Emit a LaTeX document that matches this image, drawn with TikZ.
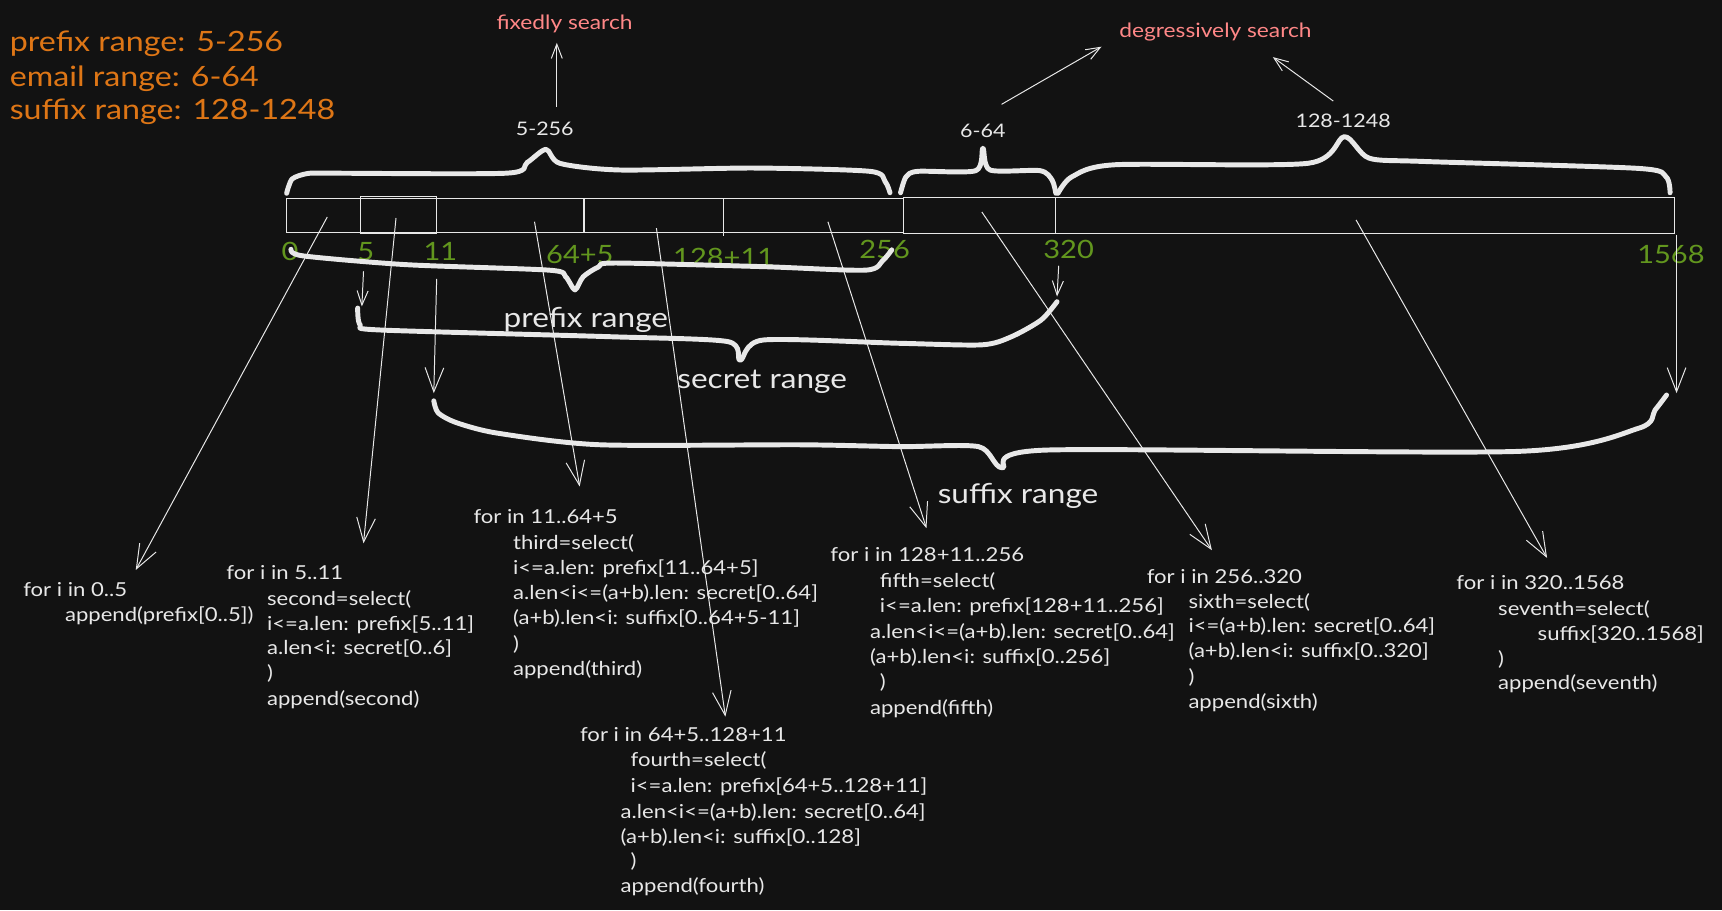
\documentclass[tikz,border=0pt]{standalone}
\usepackage{fontspec}
\usetikzlibrary{arrows.meta}
\newfontfamily\hand[FakeStretch=1.15]{Lato}
\definecolor{bg}{HTML}{121212}
\definecolor{ink}{RGB}{232,232,232}
\definecolor{orng}{RGB}{222,118,22}
\definecolor{pinkc}{RGB}{255,135,135}
\definecolor{grn}{RGB}{98,150,30}
\tikzset{
  codeline/.style={anchor=base west, inner sep=0pt, text=ink, font=\hand\fontsize{17.5}{20}\selectfont},
  orangetxt/.style={anchor=base west, inner sep=0pt, text=orng, font=\hand\fontsize{25.5}{30}\selectfont},
  pinktxt/.style={anchor=base west, inner sep=0pt, text=pinkc, font=\hand\fontsize{18}{20}\selectfont},
  numlbl/.style={inner sep=0pt, text=grn, font=\hand\fontsize{23}{25}\selectfont},
  rangelbl/.style={inner sep=0pt, text=ink, font=\hand\fontsize{25}{28}\selectfont},
  toplbl/.style={inner sep=0pt, text=ink, font=\hand\fontsize{17}{20}\selectfont},
  bracestroke/.style={draw=ink, line width=4.5pt, line cap=round, line join=round},
  barline/.style={draw=ink, line width=1pt},
  longarrow/.style={draw=ink, line width=0.9pt, -{Straight Barb[length=22pt,width=17pt,line width=0.9pt]}},
  shortarrow/.style={draw=ink, line width=0.9pt, -{Straight Barb[length=13pt,width=10pt,line width=0.9pt]}},
}
\begin{document}
\begin{tikzpicture}[x=1pt,y=-1pt]
\fill[bg] (0,0) rectangle (1568,829);
\useasboundingbox (0,0) rectangle (1568,829);

% legend
\node[orangetxt] (leg1) at (8.7,47) {prefix range: 5-256};
\node[orangetxt] (leg2) at (8.7,78.5) {email range: 6-64};
\node[orangetxt] (leg3) at (8.7,108.7) {suffix range: 128-1248};

% pink labels
\node[pinktxt] (fix) at (452,26.7) {fixedly search};
\node[pinktxt] (deg) at (1019,34) {degressively search};

% top labels
\node[toplbl] (t1) at (496,117.7) {5-256};
\node[toplbl] (t2) at (895,119) {6-64};
\node[toplbl] (t3) at (1223,110) {128-1248};

% top arrows
\coordinate (fa1) at (507,97); \coordinate (fa2) at (507,39);
\draw[shortarrow] (fa1) -- (fa2);
\coordinate (da1) at (912,95); \coordinate (da2) at (1003,42.5);
\draw[shortarrow] (da1) -- (da2);
\coordinate (db1) at (1214,92); \coordinate (db2) at (1159,52);
\draw[shortarrow] (db1) -- (db2);

% top braces
\draw[bracestroke] plot[smooth, tension=0.45] coordinates {(261,176) (266,163) (280,158) (300,157.7) (461,157.7) (480,148) (497.2,136) (510,148.8) (564.6,154.8) (686,153) (792,156) (806,165.4) (810.4,175.5)};
\draw[bracestroke] plot[smooth, tension=0.45] coordinates {(820,175.5) (825,161) (836,156) (888.5,155.4) (895,135) (901.5,154.8) (947,155.4) (958,164) (961.4,176)};
\draw[bracestroke] plot[smooth, tension=0.45] coordinates {(963.4,176) (976,161) (1015.5,150) (1191,148.7) (1224,124.5) (1246.6,144) (1295.8,147) (1491.2,153.3) (1517,161) (1520.7,175.5)};

% bar
\draw[barline] (261,180.5) rectangle (822.6,212);
\draw[barline] (822.6,179.5) rectangle (1524.5,212.5);
\draw[barline] (328.6,179) rectangle (397.3,213);
\draw[barline] (531.8,180.5) -- (531.8,212);
\draw[barline] (658.4,180.5) -- (658.4,215);
\draw[barline] (961,179.5) -- (961,212.5);

% green numbers
\node[numlbl] (n0) at (264,229) {0};
\node[numlbl] (n5) at (333,229) {5};
\node[numlbl] (n11) at (401,229) {11};
\node[numlbl] (n69) at (528,231.5) {64+5};
\node[numlbl] (n139) at (659,234) {128+11};
\node[numlbl] (n256) at (805.5,226.7) {256};
\node[numlbl] (n320) at (973,227) {320};
\node[numlbl] (n1568) at (1521.5,232) {1568};

% bottom braces
\draw[bracestroke] plot[smooth, tension=0.45] coordinates {(265,227) (276,233) (370,241) (500,246) (515,252) (523.5,264) (531,252) (545,243) (560,239.5) (695,242.8) (788,246) (804,237) (812,227.5)};
\draw[bracestroke] plot[smooth, tension=0.45] coordinates {(325.7,280.5) (328,296) (346.6,300.5) (555.5,306.6) (662.5,311) (674,328) (695,309.6) (819.5,312.6) (894,314) (921,306.6) (948,291.4) (962.5,274.7)};
\draw[bracestroke] plot[smooth, tension=0.45] coordinates {(395,365) (399,376) (416,385) (453.5,394.5) (546.4,405) (728.5,405) (819.5,406.7) (891,406.7) (912.5,426) (953.2,409.8) (1382.8,411) (1492.5,389.8) (1507,373.4) (1517.5,359.7)};

\node[rangelbl] (lp) at (533.5,291) {prefix range};
\node[rangelbl] (ls) at (694,347.5) {secret range};
\node[rangelbl] (lx) at (927,452) {suffix range};

% arrows to brace starts
\coordinate (q5a) at (331,247); \coordinate (q5b) at (329.5,279);
\draw[shortarrow] (q5a) -- (q5b);
\coordinate (q11a) at (397.6,254); \coordinate (q11b) at (395,358);
\draw[longarrow] (q11a) -- (q11b);
\coordinate (q320a) at (964,242); \coordinate (q320b) at (962.5,270);
\draw[shortarrow] (q320a) -- (q320b);
\coordinate (q1568a) at (1526.6,214); \coordinate (q1568b) at (1526.6,358);
\draw[longarrow] (q1568a) -- (q1568b);

% long arrows to code blocks
\coordinate (s1) at (298,197.6); \coordinate (e1) at (123.6,519);
\coordinate (s2) at (360.6,198.5); \coordinate (e2) at (331,494.7);
\coordinate (s3) at (486.7,201.9); \coordinate (e3) at (527.8,443);
\coordinate (s4) at (597.7,207.7); \coordinate (e4) at (660.5,652.6);
\coordinate (s5) at (753.9,202); \coordinate (e5) at (843.6,481);
\coordinate (s6) at (894,193); \coordinate (e6) at (1103.5,501);
\coordinate (s7) at (1234.8,200.3); \coordinate (e7) at (1408.7,508);
\foreach \i in {1,...,7} {\draw[longarrow] (s\i) -- (e\i);}

% block 1
\node[codeline] (a1) at (21,543) {for i in 0..5};
\node[codeline] (a2) at (59,566) {append(prefix[0..5])};
% block 2
\node[codeline] (b1) at (206,528) {for i in 5..11};
\node[codeline] (b2) at (243,551) {second=select(};
\node[codeline] (b3) at (243,574) {i<=a.len: prefix[5..11]};
\node[codeline] (b4) at (243,596) {a.len<i: secret[0..6]};
\node[codeline] (b5) at (243,619) {)};
\node[codeline] (b6) at (243,642) {append(second)};
% block 3
\node[codeline] (c1) at (431,477) {for in 11..64+5};
\node[codeline] (c2) at (467,500) {third=select(};
\node[codeline] (c3) at (467,523) {i<=a.len: prefix[11..64+5]};
\node[codeline] (c4) at (467,546) {a.len<i<=(a+b).len: secret[0..64]};
\node[codeline] (c5) at (467,569) {(a+b).len<i: suffix[0..64+5-11]};
\node[codeline] (c6) at (467,592) {)};
\node[codeline] (c7) at (467,615) {append(third)};
% block 4
\node[codeline] (d1) at (528,675) {for i in 64+5..128+11};
\node[codeline] (d2) at (574,698) {fourth=select(};
\node[codeline] (d3) at (574,722) {i<=a.len: prefix[64+5..128+11]};
\node[codeline] (d4) at (565,745) {a.len<i<=(a+b).len: secret[0..64]};
\node[codeline] (d5) at (565,768) {(a+b).len<i: suffix[0..128]};
\node[codeline] (d6) at (574,790) {)};
\node[codeline] (d7) at (565,813) {append(fourth)};
% block 5
\node[codeline] (f1) at (756,511) {for i in 128+11..256};
\node[codeline] (f2) at (801,535) {fifth=select(};
\node[codeline] (f3) at (801,558) {i<=a.len: prefix[128+11..256]};
\node[codeline] (f4) at (792,581) {a.len<i<=(a+b).len: secret[0..64]};
\node[codeline] (f5) at (792,604) {(a+b).len<i: suffix[0..256]};
\node[codeline] (f6) at (801,627) {)};
\node[codeline] (f7) at (792,651) {append(fifth)};
% block 6
\node[codeline] (g1) at (1044,531) {for i in 256..320};
\node[codeline] (g2) at (1082,554) {sixth=select(};
\node[codeline] (g3) at (1082,576) {i<=(a+b).len: secret[0..64]};
\node[codeline] (g4) at (1082,599) {(a+b).len<i: suffix[0..320]};
\node[codeline] (g5) at (1082,622) {)};
\node[codeline] (g6) at (1082,645) {append(sixth)};
% block 7
\node[codeline] (h1) at (1326,537) {for i in 320..1568};
\node[codeline] (h2) at (1364,560) {seventh=select(};
\node[codeline] (h3) at (1400,583) {suffix[320..1568]};
\node[codeline] (h4) at (1364,606) {)};
\node[codeline] (h5) at (1364,628) {append(seventh)};
\end{tikzpicture}
\end{document}
